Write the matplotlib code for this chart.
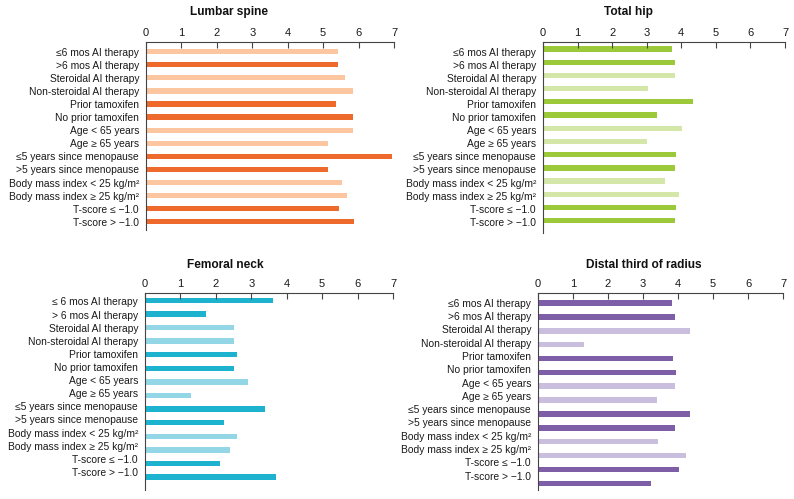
import matplotlib
matplotlib.use("Agg")
import matplotlib.pyplot as plt

plt.rcParams['font.family'] = ['Liberation Sans', 'DejaVu Sans']

labels_a = ["≤6 mos AI therapy", ">6 mos AI therapy", "Steroidal AI therapy",
            "Non-steroidal AI therapy", "Prior tamoxifen", "No prior tamoxifen",
            "Age < 65 years", "Age ≥ 65 years", "≤5 years since menopause",
            ">5 years since menopause", "Body mass index < 25 kg/m²",
            "Body mass index ≥ 25 kg/m²", "T-score ≤ −1.0", "T-score > −1.0"]
labels_fn = ["≤ 6 mos AI therapy", "> 6 mos AI therapy"] + labels_a[2:]

lumbar = [5.42, 5.42, 5.63, 5.84, 5.35, 5.84, 5.83, 5.15, 6.95, 5.15, 5.54, 5.66, 5.45, 5.87]
hip = [3.74, 3.81, 3.81, 3.04, 4.34, 3.31, 4.03, 3.02, 3.84, 3.83, 3.52, 3.93, 3.84, 3.81]
femoral = [3.60, 1.72, 2.51, 2.52, 2.60, 2.50, 2.90, 1.30, 3.38, 2.22, 2.61, 2.40, 2.11, 3.70]
radius = [3.84, 3.92, 4.34, 1.30, 3.85, 3.93, 3.91, 3.41, 4.34, 3.92, 3.42, 4.24, 4.04, 3.22]

xticks = [0, 1, 2, 3, 4, 5, 6, 7]

# which bars use the darker shade
dark_lumbar = [0, 1, 0, 0, 1, 1, 0, 0, 1, 1, 0, 0, 1, 1]
dark_std = [1, 1, 0, 0, 1, 1, 0, 0, 1, 1, 0, 0, 1, 1]

W, H = 794, 499
fig = plt.figure(figsize=(W / 100, H / 100), dpi=100)

panels = [
    # title, values, labels, dark flags, dark color, light color, (l, r, t, b), top pad, bottom pad, label start, label end, title x, title y
    ("Lumbar spine", lumbar, labels_a, dark_lumbar, "#EE6A2C", "#FBC6A0", (146, 394, 42, 230), 0.74, 0.63, 0.0, 13.0, 229, 12),
    ("Total hip", hip, labels_a, dark_std, "#9BC93A", "#D4E7A9", (543, 785, 42, 233), 0.53, 0.93, 0.2, 13.08, 629, 12),
    ("Femoral neck", femoral, labels_fn, dark_std, "#1DB3CF", "#93D7E6", (145, 393, 293, 490), 0.55, 0.96, 0.07, 12.63, 225, 265),
    ("Distal third of radius", radius, labels_a, dark_std, "#7E5EA6", "#C9BEDD", (538, 783, 293, 490), 0.72, 0.48, -0.02, 12.45, 644, 265),
]

for (title, vals, labs, dark, cd, cl, (l, r, t, b), tp, bp, ls, le, tx, ty) in panels:
    ax = fig.add_axes([l / W, 1 - b / H, (r - l) / W, (b - t) / H])
    n = len(vals)
    ys = list(range(n))
    colors = [cd if d else cl for d in dark]
    ax.barh(ys, vals, height=0.4, color=colors, edgecolor='none')
    ax.set_xlim(0, 7)
    ax.set_ylim(n - 1 + bp, -tp)
    ax.xaxis.tick_top()
    ax.set_xticks(xticks)
    ax.set_xticklabels([str(v) for v in xticks])
    ax.tick_params(axis='x', direction='in', length=4, width=0.8, color='#444444',
                   labelsize=8, pad=3, labelcolor='#1a1a1a')
    step = (le - ls) / (n - 1)
    ax.set_yticks([ls + i * step for i in range(n)])
    ax.set_yticklabels(labs)
    ax.tick_params(axis='y', length=0, labelsize=7.4, pad=5, labelcolor='#1a1a1a')
    for s in ['right', 'bottom']:
        ax.spines[s].set_visible(False)
    for s in ['top', 'left']:
        ax.spines[s].set_color('#444444')
        ax.spines[s].set_linewidth(0.8)
    fig.text(tx / W, 1 - ty / H, title, ha='center', va='center',
             fontsize=8.6, fontweight='bold', color='#111111')

fig.savefig("out.png", dpi=100)
